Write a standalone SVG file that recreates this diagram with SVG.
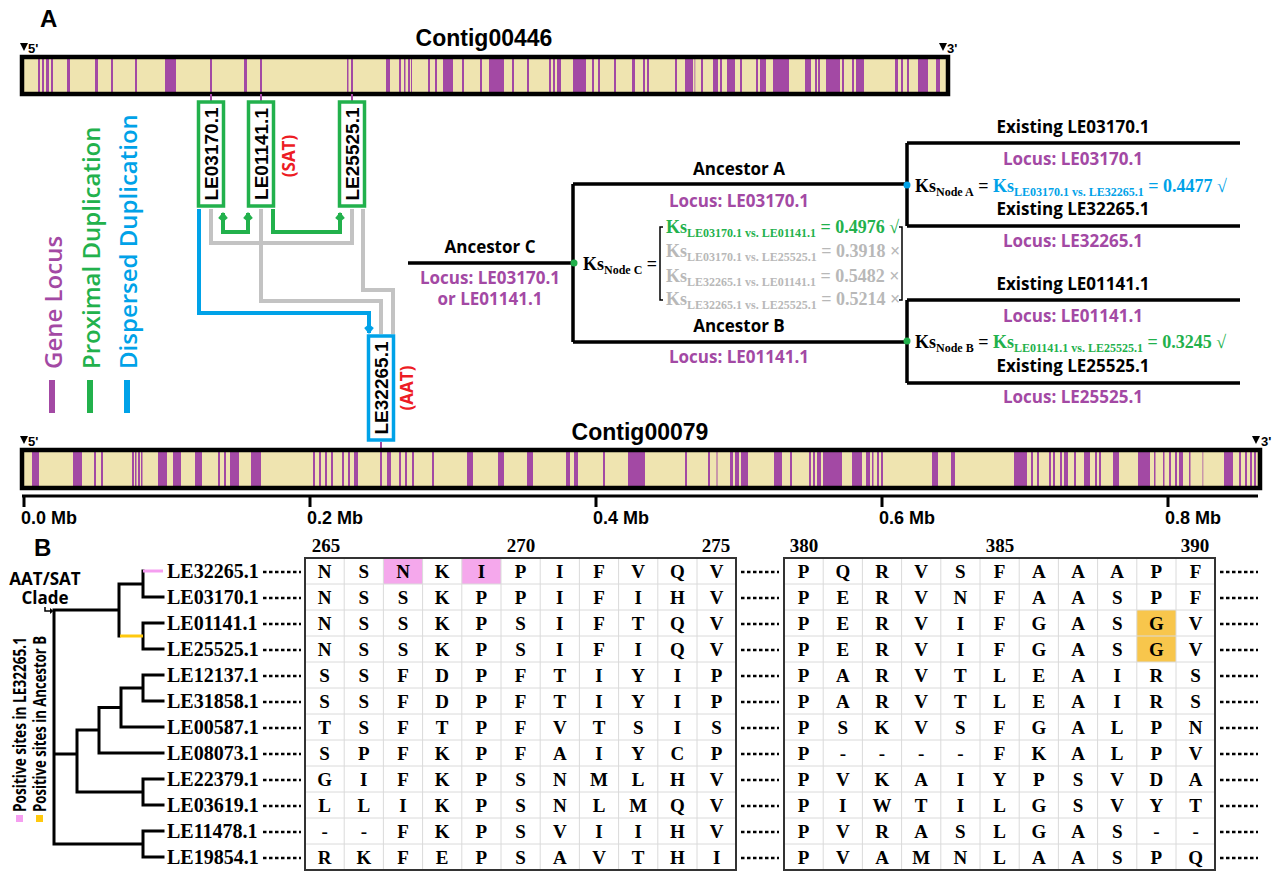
<svg xmlns="http://www.w3.org/2000/svg" width="1281" height="871" viewBox="0 0 1281 871">
<style>
.ob{font-family:"Open Sans","Liberation Sans",sans-serif;font-weight:700;font-size:17px}
.lg{font-family:"Open Sans","Liberation Sans",sans-serif;font-weight:600;font-size:24px}
.ar{font-family:"Liberation Sans",Arial,sans-serif;font-weight:700}
.sr{font-family:"Liberation Serif","Times New Roman",serif;font-weight:700}
.ks{font-family:"Liberation Serif","Times New Roman",serif;font-weight:700;font-size:18px}
.sub{font-size:12px}
.st{fill:#a349a4}
.bg{fill:#efe4b0}
.frame{fill:none;stroke:#000;stroke-width:4.5}
.gbox{fill:#fff;stroke:#22b14c;stroke-width:3.5}
.bbox{fill:#fff;stroke:#00a2e8;stroke-width:3.5}
.tick{stroke:#a349a4;stroke-width:2}
.gray{fill:none;stroke:#c3c3c3;stroke-width:4}
.grn{fill:none;stroke:#22b14c;stroke-width:4}
.blu{fill:none;stroke:#00a2e8;stroke-width:4}
.tl{fill:none;stroke:#000;stroke-width:3.5}
.tr{fill:none;stroke:#000;stroke-width:3;stroke-linecap:square}
.lead{stroke:#000;stroke-width:2.5;stroke-dasharray:3.5 2.5}
.grid{fill:none;stroke:#dadada;stroke-width:1}
.tbl{fill:none;stroke:#333;stroke-width:2}
.aa{font-family:"Liberation Serif","Times New Roman",serif;font-weight:700;font-size:19px;text-anchor:middle}
.leaf{font-family:"Liberation Serif","Times New Roman",serif;font-weight:700;font-size:20px}
.purple{fill:#a349a4}
.mid{text-anchor:middle}
</style>
<defs>
<marker id="ag" viewBox="-6 -6 12 12" refX="5" refY="0" markerWidth="12" markerHeight="12" markerUnits="userSpaceOnUse" orient="auto-start-reverse"><path d="M6,0 L0,-4.8 L-4,0 L0,4.8 Z" fill="#22b14c"/></marker>
<marker id="ab" viewBox="-6 -6 12 12" refX="5" refY="0" markerWidth="12" markerHeight="12" markerUnits="userSpaceOnUse" orient="auto-start-reverse"><path d="M6,0 L0,-4.8 L-4,0 L0,4.8 Z" fill="#00a2e8"/></marker>
</defs>
<rect width="1281" height="871" fill="#fff"/>

<!-- Panel A -->
<text class="ar" x="40" y="27" font-size="24">A</text>

<g id="contig00446">
<text class="ar mid" x="484" y="46" font-size="23">Contig00446</text>
<polygon points="20,43 28,43 24,51" fill="#000"/>
<text class="ar" x="28" y="53" font-size="13">5'</text>
<polygon points="939,43 947,43 943,51" fill="#000"/>
<text class="ar" x="947" y="53" font-size="13">3'</text>
<rect class="bg" x="24" y="59" width="922" height="33"/>
<g class="st">
<rect x="38" y="59" width="2" height="33"/><rect x="42" y="59" width="2" height="33"/><rect x="46" y="59" width="3" height="33"/><rect x="51" y="59" width="2" height="33"/>
<rect x="67" y="59" width="3" height="33"/><rect x="95" y="59" width="3" height="33"/><rect x="111" y="59" width="2" height="33"/><rect x="135" y="59" width="2" height="33"/>
<rect x="165" y="59" width="11" height="33"/><rect x="210" y="59" width="2" height="33"/><rect x="244" y="59" width="3" height="33"/><rect x="260" y="59" width="2" height="33"/>
<rect x="347" y="59" width="1.5" height="33"/><rect x="351" y="59" width="2" height="33"/><rect x="386" y="59" width="4" height="33"/><rect x="399" y="59" width="2" height="33"/>
<rect x="404" y="59" width="1.5" height="33"/><rect x="408" y="59" width="2" height="33"/><rect x="411" y="59" width="1" height="33"/><rect x="428" y="59" width="2" height="33"/>
<rect x="435" y="59" width="2" height="33"/><rect x="443" y="59" width="10" height="33"/><rect x="462" y="59" width="2" height="33"/><rect x="480" y="59" width="2" height="33"/>
<rect x="489" y="59" width="15" height="33"/><rect x="512" y="59" width="2" height="33"/><rect x="527" y="59" width="2" height="33"/><rect x="549" y="59" width="2" height="33"/>
<rect x="553" y="59" width="2" height="33"/><rect x="557" y="59" width="4" height="33"/><rect x="573" y="59" width="13" height="33"/><rect x="592" y="59" width="2" height="33"/>
<rect x="598" y="59" width="2" height="33"/><rect x="614" y="59" width="2" height="33"/><rect x="632" y="59" width="3" height="33"/><rect x="643" y="59" width="2" height="33"/>
<rect x="647" y="59" width="2" height="33"/><rect x="675" y="59" width="2" height="33"/><rect x="685" y="59" width="8" height="33"/><rect x="694" y="59" width="1.5" height="33" opacity="0.5"/>
<rect x="701" y="59" width="2" height="33"/><rect x="713" y="59" width="5" height="33"/><rect x="720" y="59" width="2" height="33"/><rect x="727" y="59" width="8" height="33"/>
<rect x="740" y="59" width="2" height="33"/><rect x="756" y="59" width="2" height="33"/><rect x="760" y="59" width="6" height="33"/><rect x="773" y="59" width="16" height="33"/>
<rect x="805" y="59" width="6" height="33"/><rect x="815" y="59" width="2" height="33"/><rect x="818" y="59" width="2" height="33"/><rect x="826" y="59" width="14" height="33"/>
<rect x="842" y="59" width="2" height="33"/><rect x="852" y="59" width="2" height="33"/><rect x="856" y="59" width="8" height="33"/><rect x="895" y="59" width="3" height="33"/>
<rect x="901" y="59" width="2" height="33"/><rect x="907" y="59" width="2" height="33"/><rect x="918" y="59" width="10" height="33"/><rect x="936" y="59" width="4" height="33"/>
</g>
<rect class="frame" x="22" y="57" width="926" height="37"/>
</g>

<g id="legend">
<line x1="52" y1="380" x2="52" y2="413" stroke="#a349a4" stroke-width="6"/>
<text class="lg" transform="translate(62,369) rotate(-90)" fill="#a349a4">Gene Locus</text>
<line x1="90" y1="380" x2="90" y2="413" stroke="#22b14c" stroke-width="6"/>
<text class="lg" transform="translate(100,369) rotate(-90)" fill="#22b14c">Proximal Duplication</text>
<line x1="127" y1="380" x2="127" y2="413" stroke="#00a2e8" stroke-width="6"/>
<text class="lg" transform="translate(137,369) rotate(-90)" fill="#00a2e8">Dispersed Duplication</text>
</g>

<g id="connectors">
<line class="tick" x1="211" y1="94" x2="211" y2="102"/>
<line class="tick" x1="261" y1="94" x2="261" y2="102"/>
<line class="tick" x1="352" y1="94" x2="352" y2="102"/>
<line class="tick" x1="381" y1="442" x2="381" y2="450"/>
<path class="gray" d="M211,209 V243 H352 V209"/>
<path class="gray" d="M261,209 V301 H381 V334"/>
<path class="gray" d="M363,209 V290 H393 V334"/>
<path class="grn" d="M223,213 V232 H248 V213" marker-start="url(#ag)" marker-end="url(#ag)"/>
<path class="grn" d="M273,209 V232 H340 V213" marker-end="url(#ag)"/>
<path class="blu" d="M199,209 V313 H369 V333" marker-end="url(#ab)"/>
</g>

<g id="box-LE03170">
<rect class="gbox" x="198.5" y="102" width="25" height="104"/>
<text class="ar mid" font-size="19" transform="translate(218,154) rotate(-90)">LE03170.1</text>
</g>
<g id="box-LE01141">
<rect class="gbox" x="248.5" y="102" width="25" height="104"/>
<text class="ar mid" font-size="19" transform="translate(268,154) rotate(-90)">LE01141.1</text>
<text class="ob mid" font-size="16" fill="#ed1c24" transform="translate(295,156) rotate(-90)">(SAT)</text>
</g>
<g id="box-LE25525">
<rect class="gbox" x="339.5" y="102" width="25" height="104"/>
<text class="ar mid" font-size="19" transform="translate(359,154) rotate(-90)">LE25525.1</text>
</g>
<g id="box-LE32265">
<rect class="bbox" x="368.5" y="336" width="25" height="104"/>
<text class="ar mid" font-size="19" transform="translate(388,388) rotate(-90)">LE32265.1</text>
<text class="ob mid" font-size="16" fill="#ed1c24" transform="translate(413,388) rotate(-90)">(AAT)</text>
</g>

<g id="tree-A">
<path class="tl" d="M408,263 H573 M573,184 V342 M573,184 H907 M573,342 H907 M907,143 V226 M907,143 H1240 M907,226 H1240 M907,300 V383 M907,300 H1240 M907,383 H1240"/>
<circle cx="574" cy="263" r="3.5" fill="#22b14c"/>
<circle cx="907" cy="185" r="3.5" fill="#00a2e8"/>
<circle cx="907" cy="341" r="3.5" fill="#22b14c"/>
<path d="M663,227 H660 V300 H663 M899,227 H902 V300 H899" fill="none" stroke="#000" stroke-width="1.5"/>
</g>

<g id="node-C">
<text class="ob mid" x="490" y="253">Ancestor C</text>
<text class="ob mid purple" x="490" y="284" font-size="16.5">Locus: LE03170.1</text>
<text class="ob mid purple" x="490" y="305" font-size="16.5">or LE01141.1</text>
<text class="ks" x="583" y="270" fill="#000">Ks<tspan class="sub" dy="4">Node C</tspan><tspan dy="-4"> =</tspan></text>
<text class="ks" x="666" y="233" fill="#22b14c">Ks<tspan class="sub" dy="4">LE03170.1 vs. LE01141.1</tspan><tspan dy="-4"> = 0.4976 √</tspan></text>
<text class="ks" x="666" y="257" fill="#b8b8b8">Ks<tspan class="sub" dy="4">LE03170.1 vs. LE25525.1</tspan><tspan dy="-4"> = 0.3918 ×</tspan></text>
<text class="ks" x="666" y="282" fill="#b8b8b8">Ks<tspan class="sub" dy="4">LE32265.1 vs. LE01141.1</tspan><tspan dy="-4"> = 0.5482 ×</tspan></text>
<text class="ks" x="666" y="305" fill="#b8b8b8">Ks<tspan class="sub" dy="4">LE32265.1 vs. LE25525.1</tspan><tspan dy="-4"> = 0.5214 ×</tspan></text>
</g>
<g id="node-A">
<text class="ob mid" x="739" y="175">Ancestor A</text>
<text class="ob mid purple" x="739" y="207">Locus: LE03170.1</text>
<text class="ob mid" x="1073" y="133">Existing LE03170.1</text>
<text class="ob mid purple" x="1073" y="165">Locus: LE03170.1</text>
<text class="ks" x="915" y="192" fill="#000">Ks<tspan class="sub" dy="4">Node A</tspan><tspan dy="-4"> = </tspan><tspan fill="#00a2e8">Ks</tspan><tspan class="sub" fill="#00a2e8" dy="4">LE03170.1 vs. LE32265.1</tspan><tspan fill="#00a2e8" dy="-4"> = 0.4477 √</tspan></text>
<text class="ob mid" x="1073" y="215">Existing LE32265.1</text>
<text class="ob mid purple" x="1073" y="247">Locus: LE32265.1</text>
</g>
<g id="node-B">
<text class="ob mid" x="739" y="332">Ancestor B</text>
<text class="ob mid purple" x="739" y="363">Locus: LE01141.1</text>
<text class="ob mid" x="1073" y="290">Existing LE01141.1</text>
<text class="ob mid purple" x="1073" y="322">Locus: LE01141.1</text>
<text class="ks" x="915" y="348" fill="#000">Ks<tspan class="sub" dy="4">Node B</tspan><tspan dy="-4"> = </tspan><tspan fill="#22b14c">Ks</tspan><tspan class="sub" fill="#22b14c" dy="4">LE01141.1 vs. LE25525.1</tspan><tspan fill="#22b14c" dy="-4"> = 0.3245 √</tspan></text>
<text class="ob mid" x="1073" y="372">Existing LE25525.1</text>
<text class="ob mid purple" x="1073" y="403">Locus: LE25525.1</text>
</g>

<g id="contig00079">
<text class="ar mid" x="640" y="440" font-size="23">Contig00079</text>
<polygon points="20,436 28,436 24,444" fill="#000"/>
<text class="ar" x="28" y="446" font-size="13">5'</text>
<polygon points="1252,436 1260,436 1256,444" fill="#000"/>
<text class="ar" x="1261" y="446" font-size="13">3'</text>
<rect class="bg" x="24" y="452" width="1234" height="34"/>
<g class="st">
<rect x="32" y="452" width="7" height="34"/><rect x="73" y="452" width="9" height="34"/><rect x="94" y="452" width="2" height="34"/><rect x="101" y="452" width="2" height="34"/>
<rect x="132" y="452" width="2" height="34"/><rect x="135" y="452" width="1.5" height="34"/><rect x="138" y="452" width="2" height="34"/><rect x="141" y="452" width="1.5" height="34"/>
<rect x="158" y="452" width="9" height="34"/><rect x="173" y="452" width="8" height="34"/><rect x="195" y="452" width="7" height="34"/><rect x="218" y="452" width="2" height="34"/>
<rect x="224" y="452" width="2" height="34"/><rect x="230" y="452" width="9" height="34"/><rect x="251" y="452" width="10" height="34"/><rect x="313" y="452" width="2" height="34"/>
<rect x="319" y="452" width="2" height="34"/><rect x="325" y="452" width="2" height="34"/><rect x="331" y="452" width="2" height="34"/><rect x="342" y="452" width="2" height="34"/>
<rect x="348" y="452" width="2" height="34"/><rect x="354" y="452" width="4" height="34"/><rect x="380" y="452" width="2" height="34"/><rect x="387" y="452" width="4" height="34"/>
<rect x="399" y="452" width="2" height="34"/><rect x="405" y="452" width="2" height="34"/><rect x="412" y="452" width="2" height="34"/><rect x="432" y="452" width="2" height="34"/>
<rect x="467" y="452" width="6" height="34"/><rect x="498" y="452" width="6" height="34"/><rect x="527" y="452" width="6" height="34"/><rect x="566" y="452" width="4" height="34"/>
<rect x="574" y="452" width="4" height="34"/><rect x="603" y="452" width="2" height="34"/><rect x="628" y="452" width="17" height="34"/><rect x="685" y="452" width="2" height="34"/>
<rect x="708" y="452" width="2" height="34"/><rect x="716" y="452" width="2" height="34" opacity="0.5"/><rect x="730" y="452" width="3" height="34"/><rect x="735" y="452" width="4" height="34"/>
<rect x="741" y="452" width="7" height="34"/><rect x="774" y="452" width="8" height="34"/><rect x="790" y="452" width="2" height="34"/><rect x="809" y="452" width="2" height="34"/>
<rect x="813" y="452" width="2" height="34"/><rect x="817" y="452" width="4" height="34"/><rect x="823" y="452" width="19" height="34"/><rect x="852" y="452" width="10" height="34"/>
<rect x="866" y="452" width="4" height="34"/><rect x="872" y="452" width="1.5" height="34"/><rect x="877" y="452" width="2" height="34"/><rect x="881" y="452" width="2" height="34"/>
<rect x="932" y="452" width="6" height="34"/><rect x="951" y="452" width="4" height="34"/><rect x="1014" y="452" width="13" height="34"/><rect x="1031" y="452" width="2" height="34"/>
<rect x="1037" y="452" width="2" height="34"/><rect x="1049" y="452" width="2" height="34"/><rect x="1053" y="452" width="2" height="34"/><rect x="1060" y="452" width="2" height="34"/>
<rect x="1064" y="452" width="4" height="34"/><rect x="1074" y="452" width="2" height="34"/><rect x="1084" y="452" width="6" height="34"/><rect x="1095" y="452" width="2" height="34"/>
<rect x="1099" y="452" width="2" height="34"/><rect x="1113" y="452" width="6" height="34"/><rect x="1138" y="452" width="12" height="34"/><rect x="1154" y="452" width="1.5" height="34"/>
<rect x="1163" y="452" width="1.5" height="34"/><rect x="1169" y="452" width="2" height="34"/><rect x="1175" y="452" width="2" height="34"/><rect x="1179" y="452" width="4" height="34"/>
<rect x="1189" y="452" width="1.5" height="34"/><rect x="1202" y="452" width="1.5" height="34" opacity="0.5"/><rect x="1224" y="452" width="9" height="34"/><rect x="1239" y="452" width="2" height="34"/>
<rect x="1245" y="452" width="2" height="34"/><rect x="1250" y="452" width="2" height="34"/><rect x="1254" y="452" width="2" height="34"/>
</g>
<rect class="frame" x="22" y="450" width="1238" height="38"/>
</g>

<g id="scale">
<path d="M22,496 H1258 M24,496 V507 M310,496 V507 M596,496 V507 M882,496 V507 M1168,496 V507" fill="none" stroke="#000" stroke-width="3"/>
<g class="ar" font-size="18">
<text x="21" y="524">0.0 Mb</text>
<text x="307" y="524">0.2 Mb</text>
<text x="593" y="524">0.4 Mb</text>
<text x="879" y="524">0.6 Mb</text>
<text x="1165" y="524">0.8 Mb</text>
</g>
</g>

<!-- Panel B -->
<text class="ar" x="34" y="556" font-size="24">B</text>
<g id="clade-label">
<text class="ob mid" font-size="12.5" x="45" y="585">AAT/SAT</text>
<text class="ob mid" font-size="12.5" x="45" y="604">Clade</text>
<path d="M45,607 V611 H50" fill="none" stroke="#000" stroke-width="1.5"/>
<polygon points="50,608 53.5,611 50,614" fill="#000"/>
</g>
<g id="site-legend">
<rect x="16" y="815" width="7" height="7" fill="#f59ef0"/>
<text class="ob" font-size="13" textLength="175" lengthAdjust="spacingAndGlyphs" transform="translate(26,812) rotate(-90)">Positive sites in LE32265.1</text>
<rect x="36" y="815" width="7" height="7" fill="#ffc90e"/>
<text class="ob" font-size="13" textLength="176" lengthAdjust="spacingAndGlyphs" transform="translate(46,812) rotate(-90)">Positive sites in Ancestor B</text>
</g>

<g id="tree-B">
<path class="tr" d="M143,571 V597 H163 M163,623 H143 V649 H163 M143,584 H119 V636 M54,610 H119 M163,675 H143 V701 H163 M143,688 H121 V727 H163 M121,707.5 H99 V753 H163 M163,779 H143 V805 H163 M99,730 H77 V792 H143 M54,754 H77 M163,831 H143 V857 H163 M54,610 V844 H143"/>
<line x1="143" y1="571" x2="163" y2="571" stroke="#f59ef0" stroke-width="3"/>
<line x1="120" y1="636" x2="143" y2="636" stroke="#ffc90e" stroke-width="3"/>
</g>

<g id="leaves">
<text class="leaf" x="167" y="578">LE32265.1</text>
<text class="leaf" x="167" y="604">LE03170.1</text>
<text class="leaf" x="167" y="630">LE01141.1</text>
<text class="leaf" x="167" y="656">LE25525.1</text>
<text class="leaf" x="167" y="682">LE12137.1</text>
<text class="leaf" x="167" y="708">LE31858.1</text>
<text class="leaf" x="167" y="734">LE00587.1</text>
<text class="leaf" x="167" y="760">LE08073.1</text>
<text class="leaf" x="167" y="786">LE22379.1</text>
<text class="leaf" x="167" y="812">LE03619.1</text>
<text class="leaf" x="167" y="838">LE11478.1</text>
<text class="leaf" x="167" y="864">LE19854.1</text>
</g>

<g id="leaders">
<path class="lead" d="M263,572 H301 M263,598 H301 M263,624 H301 M263,650 H301 M263,676 H301 M263,702 H301 M263,728 H301 M263,754 H301 M263,780 H301 M263,806 H301 M263,832 H301 M263,858 H301"/>
<path class="lead" d="M741,572 H779 M741,598 H779 M741,624 H779 M741,650 H779 M741,676 H779 M741,702 H779 M741,728 H779 M741,754 H779 M741,780 H779 M741,806 H779 M741,832 H779 M741,858 H779"/>
<path class="lead" d="M1220,572 H1258 M1220,598 H1258 M1220,624 H1258 M1220,650 H1258 M1220,676 H1258 M1220,702 H1258 M1220,728 H1258 M1220,754 H1258 M1220,780 H1258 M1220,806 H1258 M1220,832 H1258 M1220,858 H1258"/>
</g>

<g id="alignment-265-275">
<text class="aa" x="326" y="552">265</text>
<text class="aa" x="521" y="552">270</text>
<text class="aa" x="716" y="552">275</text>
<rect x="383.4" y="558" width="39.2" height="26" fill="#f5a8ec"/>
<rect x="461.8" y="558" width="39.2" height="26" fill="#f5a8ec"/>
<path class="grid" d="M344.2,558 V870 M383.4,558 V870 M422.6,558 V870 M461.8,558 V870 M501,558 V870 M540.2,558 V870 M579.4,558 V870 M618.6,558 V870 M657.8,558 V870 M697,558 V870 M305,584 H736 M305,610 H736 M305,636 H736 M305,662 H736 M305,688 H736 M305,714 H736 M305,740 H736 M305,766 H736 M305,792 H736 M305,818 H736 M305,844 H736"/>
<rect class="tbl" x="305" y="558" width="431" height="312"/>
<g class="aa">
<text x="324.6 363.8 403 442.2 481.4 520.6 559.8 599 638.2 677.4 716.6" y="578">NSNKIPIFVQV</text>
<text x="324.6 363.8 403 442.2 481.4 520.6 559.8 599 638.2 677.4 716.6" y="604">NSSKPPIFIHV</text>
<text x="324.6 363.8 403 442.2 481.4 520.6 559.8 599 638.2 677.4 716.6" y="630">NSSKPSIFTQV</text>
<text x="324.6 363.8 403 442.2 481.4 520.6 559.8 599 638.2 677.4 716.6" y="656">NSSKPSIFIQV</text>
<text x="324.6 363.8 403 442.2 481.4 520.6 559.8 599 638.2 677.4 716.6" y="682">SSFDPFTIYIP</text>
<text x="324.6 363.8 403 442.2 481.4 520.6 559.8 599 638.2 677.4 716.6" y="708">SSFDPFTIYIP</text>
<text x="324.6 363.8 403 442.2 481.4 520.6 559.8 599 638.2 677.4 716.6" y="734">TSFTPFVTSIS</text>
<text x="324.6 363.8 403 442.2 481.4 520.6 559.8 599 638.2 677.4 716.6" y="760">SPFKPFAIYCP</text>
<text x="324.6 363.8 403 442.2 481.4 520.6 559.8 599 638.2 677.4 716.6" y="786">GIFKPSNMLHV</text>
<text x="324.6 363.8 403 442.2 481.4 520.6 559.8 599 638.2 677.4 716.6" y="812">LLIKPSNLMQV</text>
<text x="324.6 363.8 403 442.2 481.4 520.6 559.8 599 638.2 677.4 716.6" y="838">--FKPSVIIHV</text>
<text x="324.6 363.8 403 442.2 481.4 520.6 559.8 599 638.2 677.4 716.6" y="864">RKFEPSAVTHI</text>
</g>
</g>

<g id="alignment-380-390">
<text class="aa" x="804" y="552">380</text>
<text class="aa" x="1000" y="552">385</text>
<text class="aa" x="1195" y="552">390</text>
<rect x="1136.8" y="610" width="39.2" height="26" fill="#f8c64c"/>
<rect x="1136.8" y="636" width="39.2" height="26" fill="#f8c64c"/>
<path class="grid" d="M823.2,558 V870 M862.4,558 V870 M901.6,558 V870 M940.8,558 V870 M980,558 V870 M1019.2,558 V870 M1058.4,558 V870 M1097.6,558 V870 M1136.8,558 V870 M1176,558 V870 M784,584 H1215 M784,610 H1215 M784,636 H1215 M784,662 H1215 M784,688 H1215 M784,714 H1215 M784,740 H1215 M784,766 H1215 M784,792 H1215 M784,818 H1215 M784,844 H1215"/>
<rect class="tbl" x="784" y="558" width="431" height="312"/>
<g class="aa">
<text x="803.6 842.8 882 921.2 960.4 999.6 1038.8 1078 1117.2 1156.4 1195.6" y="578">PQRVSFAAAPF</text>
<text x="803.6 842.8 882 921.2 960.4 999.6 1038.8 1078 1117.2 1156.4 1195.6" y="604">PERVNFAASPF</text>
<text x="803.6 842.8 882 921.2 960.4 999.6 1038.8 1078 1117.2 1156.4 1195.6" y="630">PERVIFGASGV</text>
<text x="803.6 842.8 882 921.2 960.4 999.6 1038.8 1078 1117.2 1156.4 1195.6" y="656">PERVIFGASGV</text>
<text x="803.6 842.8 882 921.2 960.4 999.6 1038.8 1078 1117.2 1156.4 1195.6" y="682">PARVTLEAIRS</text>
<text x="803.6 842.8 882 921.2 960.4 999.6 1038.8 1078 1117.2 1156.4 1195.6" y="708">PARVTLEAIRS</text>
<text x="803.6 842.8 882 921.2 960.4 999.6 1038.8 1078 1117.2 1156.4 1195.6" y="734">PSKVSFGALPN</text>
<text x="803.6 842.8 882 921.2 960.4 999.6 1038.8 1078 1117.2 1156.4 1195.6" y="760">P----FKALPV</text>
<text x="803.6 842.8 882 921.2 960.4 999.6 1038.8 1078 1117.2 1156.4 1195.6" y="786">PVKAIYPSVDA</text>
<text x="803.6 842.8 882 921.2 960.4 999.6 1038.8 1078 1117.2 1156.4 1195.6" y="812">PIWTILGSVYT</text>
<text x="803.6 842.8 882 921.2 960.4 999.6 1038.8 1078 1117.2 1156.4 1195.6" y="838">PVRASLGAS--</text>
<text x="803.6 842.8 882 921.2 960.4 999.6 1038.8 1078 1117.2 1156.4 1195.6" y="864">PVAMNLAASPQ</text>
</g>
</g>
</svg>
